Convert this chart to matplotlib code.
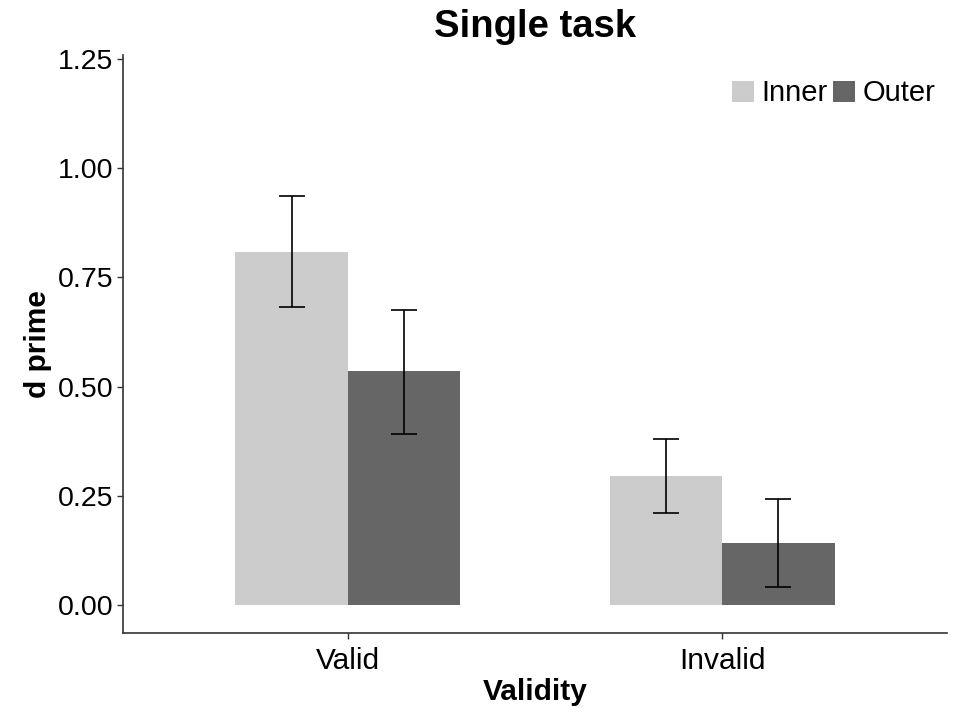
import matplotlib.pyplot as plt
import numpy as np

plt.rcParams['font.family'] = ['Liberation Sans', 'DejaVu Sans']

categories = ["Valid", "Invalid"]
groups = ["Inner", "Outer"]
inner_vals = [0.809, 0.295]
inner_lo = [0.683, 0.211]
inner_hi = [0.936, 0.379]
outer_vals = [0.536, 0.141]
outer_lo = [0.392, 0.042]
outer_hi = [0.676, 0.242]
colors = ["#cccccc", "#666666"]

fig = plt.figure(figsize=(9.66, 7.17), dpi=100)
ax = fig.add_axes([123 / 966, 1 - 633 / 717, (947 - 123) / 966, (633 - 55) / 717])

x = np.arange(1, len(categories) + 1)
w = 0.3
for i, (vals, lo, hi) in enumerate([(inner_vals, inner_lo, inner_hi),
                                     (outer_vals, outer_lo, outer_hi)]):
    pos = x + (i - 0.5) * w
    ax.bar(pos, vals, width=w, color=colors[i], label=groups[i])
    vals = np.array(vals)
    err = [vals - np.array(lo), np.array(hi) - vals]
    ax.errorbar(pos, vals, yerr=err, fmt='none', ecolor='black',
                elinewidth=1.2, capsize=9.5, capthick=1.2)

ax.set_xlim(0.4, 2.6)
ax.set_ylim(-0.064, 1.259)
ax.set_xticks(x)
ax.set_xticklabels(categories)
ax.set_yticks([0, 0.25, 0.5, 0.75, 1.0, 1.25])
ax.set_yticklabels(["0.00", "0.25", "0.50", "0.75", "1.00", "1.25"])
ax.tick_params(length=4, width=1, color='#333333', pad=3)
ax.tick_params(axis='y', labelsize=20.5)
ax.tick_params(axis='x', labelsize=21.5, pad=6)
for s in ["top", "right"]:
    ax.spines[s].set_visible(False)
for s in ["left", "bottom"]:
    ax.spines[s].set_color('#333333')
    ax.spines[s].set_linewidth(1.2)

ax.set_xlabel("Validity", fontsize=21.5, fontweight='bold', labelpad=2)
ax.set_ylabel("d prime", fontsize=21.5, fontweight='bold', labelpad=4)
ax.set_title("Single task", fontsize=27.5, fontweight='bold', pad=13)

ax.legend(loc='upper right', ncol=2, frameon=False, fontsize=21,
          handlelength=0.75, handleheight=0.75, handletextpad=0.25,
          columnspacing=0.2, bbox_to_anchor=(1.0, 0.978), borderaxespad=0.0)

fig.savefig("out.png", dpi=100)
